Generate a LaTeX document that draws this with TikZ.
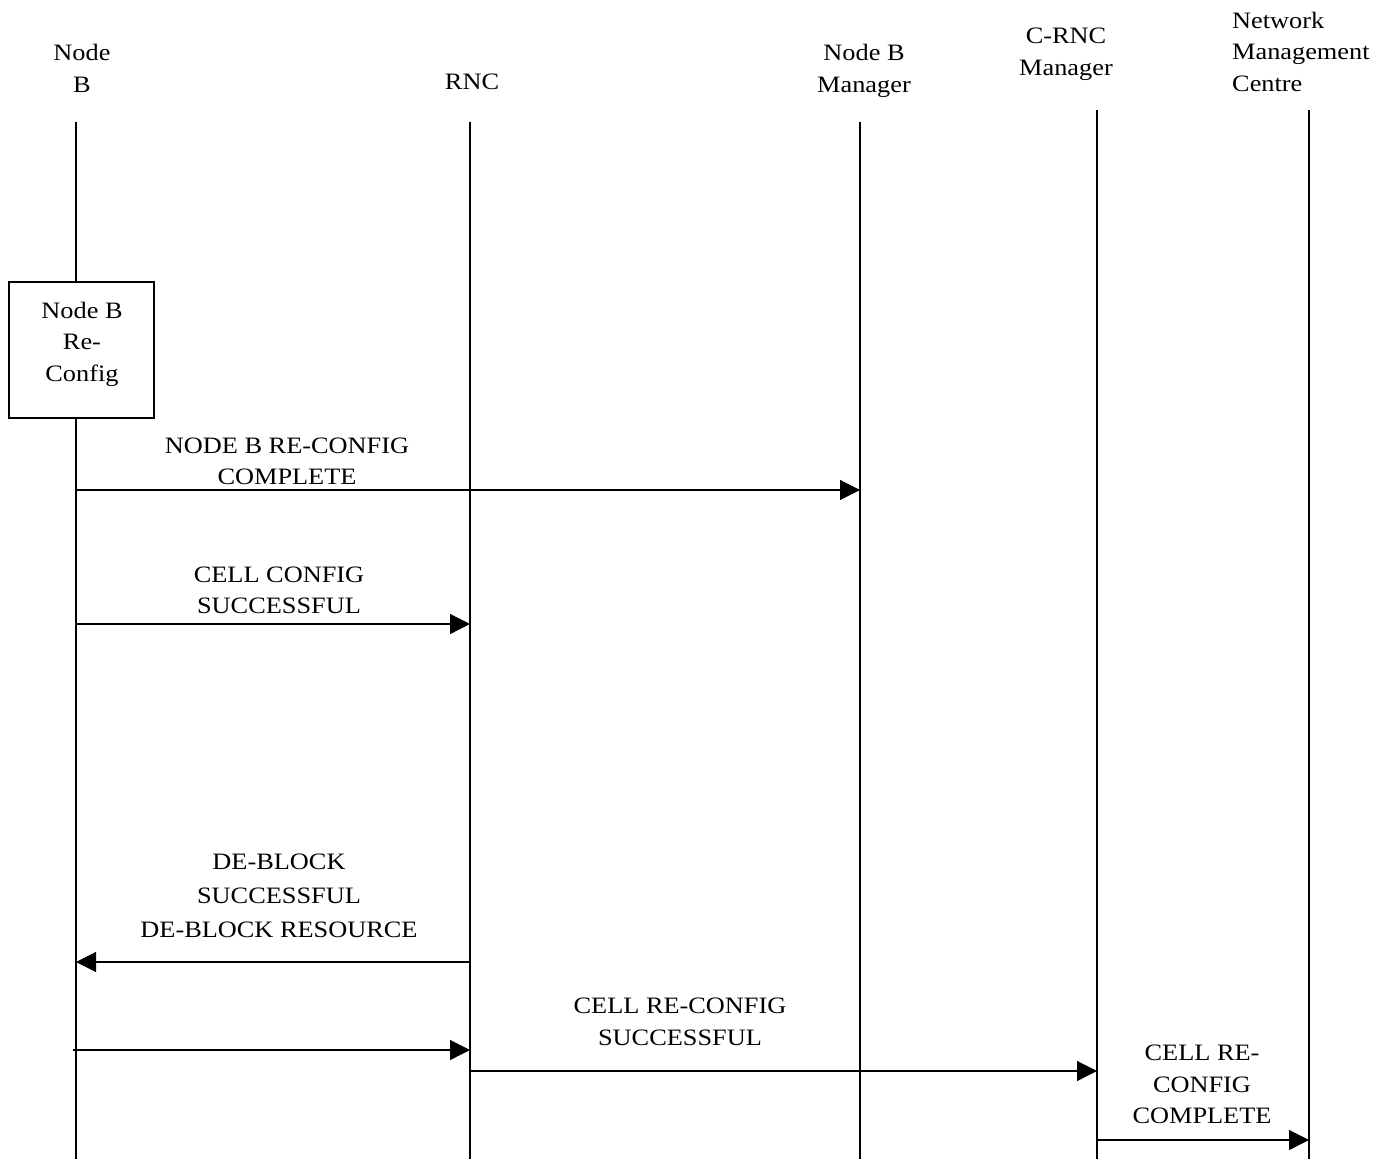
\documentclass[tikz,border=0pt]{standalone}
\usepackage{fontspec}
\setmainfont{Liberation Serif}[FakeStretch=1.12]
\usetikzlibrary{arrows.meta}
\begin{document}
\begin{tikzpicture}[x=1pt,y=-1pt,
  lbl/.style={inner sep=0pt,align=center,font=\fontsize{23.5}{31.5}\selectfont},
  life/.style={line width=1.2pt},
  msg/.style={line width=1.2pt,-{Triangle[length=20pt,width=20pt]}},
  procbox/.style={draw,line width=1.2pt,minimum width=145pt,minimum height=136pt,inner sep=0pt}]
\useasboundingbox (0,0) rectangle (1388,1159);
% headers
\node[lbl] (hNB) at (82,68.5) {Node\\B};
\node[lbl] (hRNC) at (472,82) {RNC};
\node[lbl] (hNBM) at (864,71) {Node B\\Manager};
\node[lbl] (hCRNC) at (1066,54.5) {C-RNC\\Manager};
\node[lbl,align=left,anchor=west] (hNMC) at (1232,51.5) {Network\\Management\\Centre};
% lifeline coordinates
\coordinate (nbT) at (76,122);  \coordinate (nbB) at (76,1159);
\coordinate (rT) at (470,122);  \coordinate (rB) at (470,1159);
\coordinate (nmT) at (860,122); \coordinate (nmB) at (860,1159);
\coordinate (cT) at (1097,110); \coordinate (cB) at (1097,1159);
\coordinate (nT) at (1309,110); \coordinate (nB) at (1309,1159);
% box
\node[procbox] (box) at (81.5,350) {};
\node[lbl] (boxl) at (82,344) {Node B\\Re-\\Config};
% lifelines
\draw[life] (nbT) -- (nbT |- box.north);
\draw[life] (nbT |- box.south) -- (nbB);
\draw[life] (rT) -- (rB);
\draw[life] (nmT) -- (nmB);
\draw[life] (cT) -- (cB);
\draw[life] (nT) -- (nB);
% message 1
\node[lbl] (l1) at (287,461.5) {NODE B RE-CONFIG\\COMPLETE};
\coordinate (m1a) at (76,490); \coordinate (m1b) at (860,490);
\draw[msg] (m1a) -- (m1b);
% message 2
\node[lbl] (l2) at (279,590.5) {CELL CONFIG\\SUCCESSFUL};
\coordinate (m2a) at (76,624); \coordinate (m2b) at (470,624);
\draw[msg] (m2a) -- (m2b);
% message 3
\node[lbl] (l3) at (279,896) {DE-BLOCK\\[2pt]SUCCESSFUL\\[3pt]DE-BLOCK RESOURCE};
\coordinate (m3a) at (470,962); \coordinate (m3b) at (76,962);
\draw[msg] (m3a) -- (m3b);
% message 4
\coordinate (m4a) at (73,1050); \coordinate (m4b) at (470,1050);
\draw[msg] (m4a) -- (m4b);
% message 5
\node[lbl] (l5) at (680,1022) {CELL RE-CONFIG\\SUCCESSFUL};
\coordinate (m5a) at (470,1071); \coordinate (m5b) at (1097,1071);
\draw[msg] (m5a) -- (m5b);
% message 6
\node[lbl] (l6) at (1202,1084.5) {CELL RE-\\CONFIG\\COMPLETE};
\coordinate (m6a) at (1097,1140); \coordinate (m6b) at (1309,1140);
\draw[msg] (m6a) -- (m6b);
\end{tikzpicture}
\end{document}
